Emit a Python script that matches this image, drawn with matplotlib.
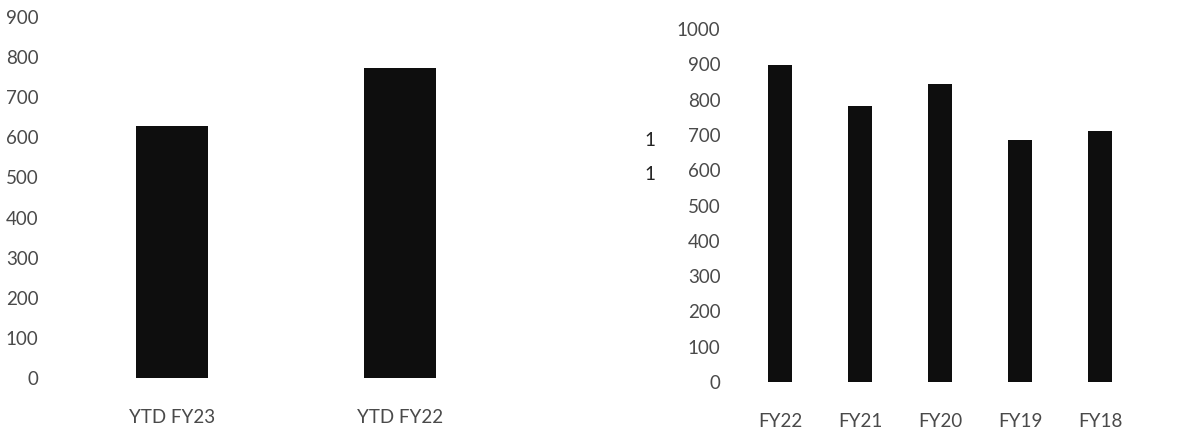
import matplotlib
matplotlib.use("Agg")
import matplotlib.pyplot as plt

# Data
left_categories = ["YTD FY23", "YTD FY22"]
left_values = [628, 772]
left_ticks = [0, 100, 200, 300, 400, 500, 600, 700, 800, 900]

right_categories = ["FY22", "FY21", "FY20", "FY19", "FY18"]
right_values = [899, 783, 845, 686, 710]
right_ticks = [0, 100, 200, 300, 400, 500, 600, 700, 800, 900, 1000]

W, H = 1198, 429
fig = plt.figure(figsize=(W / 100, H / 100), dpi=100)
plt.rcParams['font.family'] = ['Lato', 'DejaVu Sans']

txt_color = "#4a4a4a"
bar_color = "#0e0e0e"
fs = 13.5

def px_axes(x0, x1, ybot, ytop):
    return fig.add_axes([x0 / W, 1 - ybot / H, (x1 - x0) / W, (ybot - ytop) / H])

ax1 = px_axes(58, 514, 378, 17)
ax1.bar(range(len(left_categories)), left_values, width=0.32, color=bar_color)
ax1.set_xlim(-0.5, len(left_categories) - 0.5)
ax1.set_ylim(0, 900)
ax1.set_yticks(left_ticks)
ax1.set_xticks(range(len(left_categories)))
ax1.set_xticklabels(left_categories)

ax2 = px_axes(740, 1140, 382, 29)
ax2.bar(range(len(right_categories)), right_values, width=0.31, color=bar_color)
ax2.set_xlim(-0.5, len(right_categories) - 0.5)
ax2.set_ylim(0, 1000)
ax2.set_yticks(right_ticks)
ax2.set_xticks(range(len(right_categories)))
ax2.set_xticklabels(right_categories)

for ax in (ax1, ax2):
    for s in ax.spines.values():
        s.set_visible(False)
    ax.tick_params(axis='y', length=0, pad=14, labelsize=fs, labelcolor=txt_color)
    ax.tick_params(axis='x', length=0, pad=22, labelsize=fs, labelcolor=txt_color)
    for lab in ax.get_xticklabels() + ax.get_yticklabels():
        lab.set_fontweight('normal')

# stray marks in the scanned page
fig.text(650 / W, 1 - 140 / H, "1", fontsize=fs, color="#222222", ha='center', va='center')
fig.text(650 / W, 1 - 174 / H, "1", fontsize=fs, color="#222222", ha='center', va='center')

fig.savefig("out.png", dpi=100, facecolor="white")
